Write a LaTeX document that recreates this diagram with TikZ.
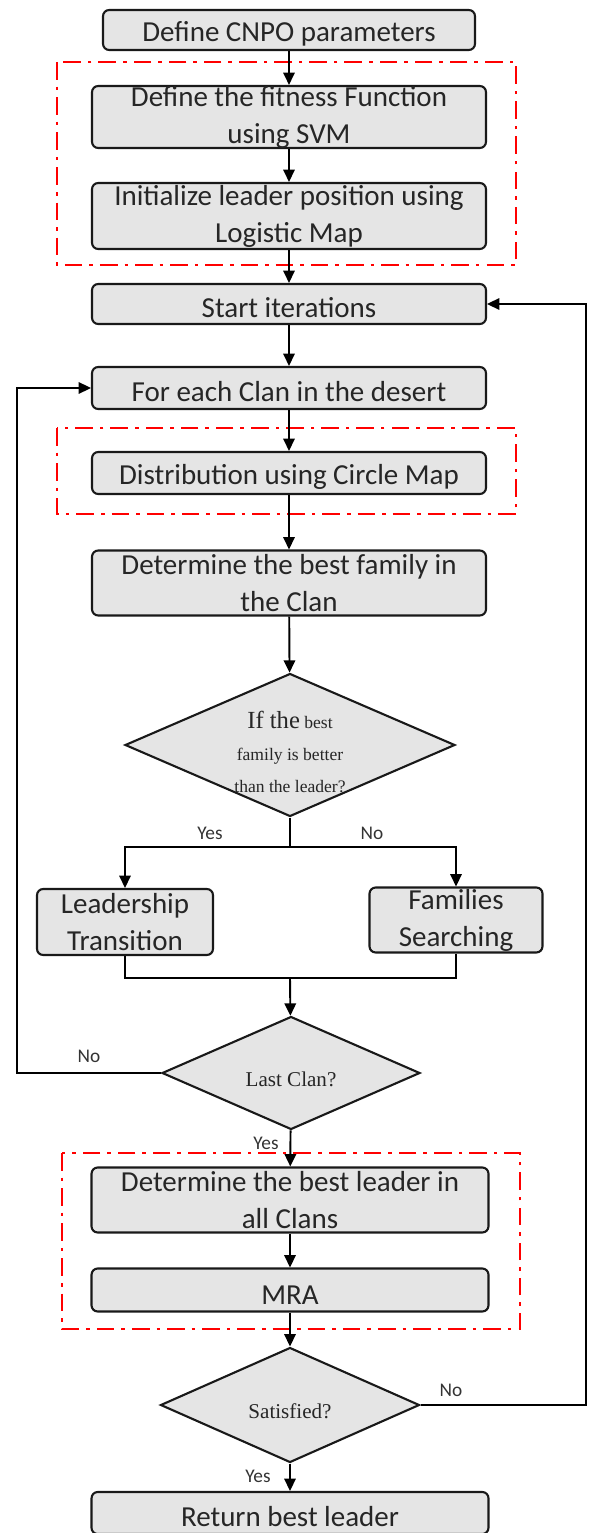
\documentclass[tikz,border=0pt]{standalone}
\usepackage{fontspec}
\setmainfont{Carlito}
\newfontfamily\cambria{Liberation Serif}
\usetikzlibrary{shapes.geometric,arrows.meta}

\begin{document}
\begin{tikzpicture}[x=0.02cm,y=-0.02cm,
		box/.style={draw=black!90, fill=boxgray, rounded corners=3.5pt, line width=1.2pt, inner sep=0pt,
			minimum width=7.88cm, align=center, text=black!85, font=\fontsize{16.5}{21}\selectfont,
			execute at begin node={\rule{0pt}{16pt}}},
		decision/.style={diamond, draw=black!90, fill=boxgray, line width=1.2pt, inner sep=0pt},
		dtext/.style={align=center, text=black!85, font=\cambria\fontsize{12}{18}\selectfont},
		flow/.style={-{Triangle[length=7pt,width=6.5pt]}, line width=1.1pt},
		plain/.style={line width=1.1pt},
		answer/.style={text=black!80, font=\fontsize{11}{13}\selectfont},
		redzone/.style={red, line width=1.6pt, dash pattern=on 10pt off 4pt on 2pt off 4pt}]

		\colorlet{boxgray}{black!10}

		\useasboundingbox (0,0) rectangle (592,1533);

		% dash-dotted groups
		\draw[redzone] (57,62) rectangle (516,265);
		\draw[redzone] (57,428) rectangle (516,514);
		\draw[redzone] (62,1153) rectangle (520,1329);

		\node[box, minimum width=7.44cm, minimum height=0.8cm] (cnpo) at (289,30) {Define CNPO parameters};
		\node[box, minimum height=1.24cm] (fitness) at (289,117) {Define the fitness Function\\using SVM};
		\node[box, minimum height=1.32cm] (logistic) at (289,216) {Initialize leader position using\\Logistic Map};
		\node[box, minimum height=0.8cm] (start) at (289,304) {Start iterations};
		\node[box, minimum height=0.84cm] (clans) at (289,388) {For each Clan in the desert};
		\node[box, minimum height=0.84cm] (circle) at (289,473) {Distribution using Circle Map};
		\node[box, minimum height=1.3cm] (bestfam) at (289,583) {Determine the best family in\\the Clan};

		\node[decision, minimum width=6.6cm, minimum height=2.86cm] (better) at (290,745) {};
			\node[dtext, font=\cambria\fontsize{10}{18}\selectfont] (better-txt) at (290,752)
				{{\fontsize{14}{14}\selectfont If the} best\\family is better\\than the leader?};

		\node[box, minimum width=3.52cm, minimum height=1.32cm] (lead) at (125,922) {Leadership\\Transition};
		\node[box, minimum width=3.46cm, minimum height=1.3cm] (fam) at (456,920) {Families\\Searching};

		\node[decision, minimum width=5.16cm, minimum height=2.26cm] (lastclan) at (291,1073) {};
			\node[dtext] (lastclan-txt) at (291,1079) {Last Clan?};

		\node[box, minimum width=7.94cm, minimum height=1.3cm] (bestlead) at (290,1200) {Determine the best leader in\\all Clans};
		\node[box, minimum width=7.94cm, minimum height=0.86cm] (mra) at (290,1290) {MRA};

		\node[decision, minimum width=5.18cm, minimum height=2.3cm] (satisfied) at (290,1405) {};
			\node[dtext] (satisfied-txt) at (290,1411) {Satisfied?};

		\node[box, minimum width=7.94cm, minimum height=0.84cm] (ret) at (290,1513) {Return best leader};

		% main column
		\draw[flow] (cnpo) -- (fitness);
		\draw[flow] (fitness) -- (logistic);
		\draw[flow] (logistic) -- (start);
		\draw[flow] (start) -- (clans);
		\draw[flow] (clans) -- (circle);
		\draw[flow] (circle) -- (bestfam);
		\draw[flow] (bestfam) -- (better);

		% branches
		\coordinate (split) at (290,847);
		\coordinate (join) at (290,978);
		\draw[plain] (better) -- (split);
		\draw[flow] (split) -| (lead);
		\draw[flow] (split) -| (fam);
			\node[answer] (yes1) at (210,833) {Yes};
			\node[answer] (no1) at (372,833) {No};
		\draw[plain] (lead) |- (join);
		\draw[plain] (fam) |- (join);
		\draw[flow] (join) -- (lastclan);

		% loops
		\coordinate (loopL) at (17,1073);
		\coordinate (loopR) at (586,1405);
		\draw[flow] (lastclan.west) -- (loopL) |- (clans.west);
			\node[answer] (no2) at (89,1056) {No};
		\draw[flow] (lastclan) -- (bestlead);
			\node[answer] (yes2) at (266,1143) {Yes};
		\draw[flow] (bestlead) -- (mra);
		\draw[flow] (mra) -- (satisfied);
		\draw[flow] (satisfied.east) -- (loopR) |- (start.east);
			\node[answer] (no3) at (451,1390) {No};
		\draw[flow] (satisfied) -- (ret);
			\node[answer] (yes3) at (258,1476) {Yes};

	\end{tikzpicture}
\end{document}
